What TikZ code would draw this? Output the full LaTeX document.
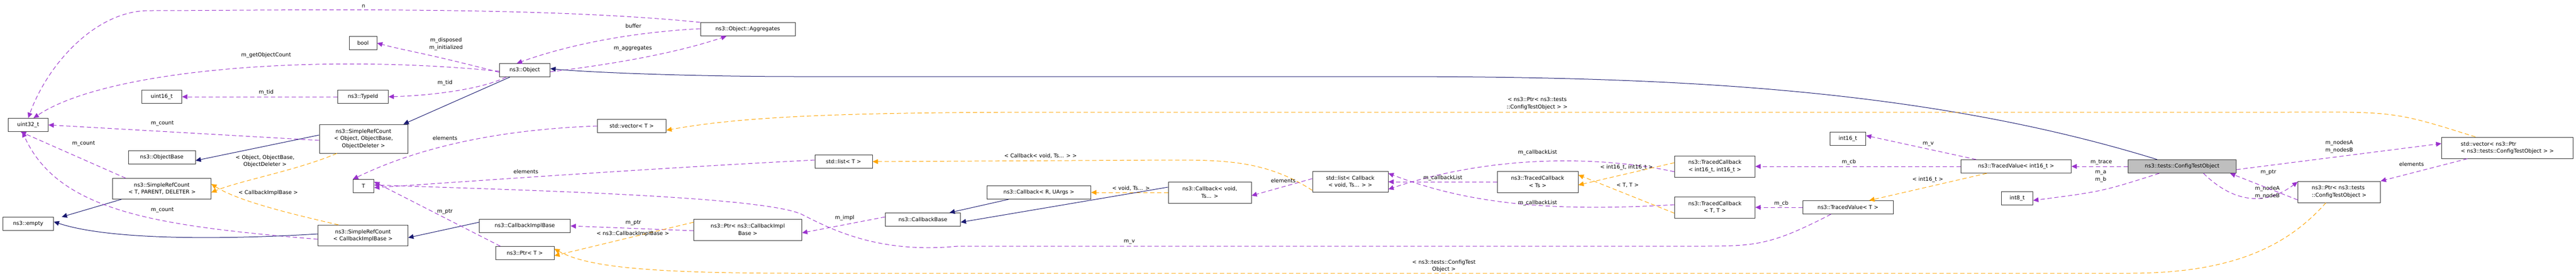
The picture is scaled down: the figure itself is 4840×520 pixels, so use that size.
\documentclass[tikz,border=0pt]{standalone}
\usepackage{fontspec}
\setmainfont{DejaVu Sans}
\usetikzlibrary{arrows.meta}
\definecolor{use}{HTML}{9A32CD}
\definecolor{tmpl}{HTML}{FFA500}
\definecolor{inh}{HTML}{191970}
\begin{document}
\begin{tikzpicture}[x=1pt,y=-1pt,
  font=\fontsize{10}{13.5}\selectfont,
  box/.style={draw=black!80, line width=1pt, fill=white, minimum height=25pt, inner sep=0pt, align=center},
  usee/.style={draw=use, line width=1pt, dash pattern=on 8pt off 5pt, -{Triangle[length=10pt,width=9pt]}},
  tmple/.style={draw=tmpl, line width=1pt, dash pattern=on 8pt off 5pt, -{Triangle[length=10pt,width=9pt]}},
  inhe/.style={draw=inh, line width=1pt, -{Triangle[length=10pt,width=9pt]}},
  lbl/.style={inner sep=0pt, align=center, fill=none}]
\useasboundingbox (0,0) rectangle (4840,520);
% nodes
\node[box, minimum width=75] (u32) at (53,235) {uint32\_t};
\node[box, minimum width=75] (u16) at (304,182) {uint16\_t};
\node[box, minimum width=126] (obase) at (304,296) {ns3::ObjectBase};
\node[box, minimum width=185, minimum height=39] (srct) at (304,355) {ns3::SimpleRefCount\\\hspace*{1pt}< T, PARENT, DELETER >};
\node[box, minimum width=95] (empty) at (53,421) {ns3::empty};
\node[box, minimum width=52] (bool) at (682,81) {bool};
\node[box, minimum width=95] (tid) at (682,182) {ns3::TypeId};
\node[box, minimum width=166, minimum height=54] (srco) at (683,261) {ns3::SimpleRefCount\\< Object, ObjectBase,\\ObjectDeleter >};
\node[box, minimum width=39] (T) at (683,350) {T};
\node[box, minimum width=169, minimum height=39] (srcc) at (682,443) {ns3::SimpleRefCount\\< CallbackImplBase >};
\node[box, minimum width=95] (obj) at (986,132) {ns3::Object};
\node[box, minimum width=178] (agg) at (1405,55) {ns3::Object::Aggregates};
\node[box, minimum width=129] (vecT) at (1187,237) {std::vector< T >};
\node[box, minimum width=171] (cib) at (986,425) {ns3::CallbackImplBase};
\node[box, minimum width=110] (ptrT) at (986,476) {ns3::Ptr< T >};
\node[box, minimum width=203, minimum height=40] (ptrcib) at (1405,432) {ns3::Ptr< ns3::CallbackImpl\\Base >};
\node[box, minimum width=108] (listT) at (1585,304) {std::list< T >};
\node[box, minimum width=195] (cbru) at (1952,362) {ns3::Callback< R, UArgs >};
\node[box, minimum width=141] (cbb) at (1734,413) {ns3::CallbackBase};
\node[box, minimum width=156, minimum height=40] (cbv) at (2273,362) {ns3::Callback< void,\\Ts... >};
\node[box, minimum width=142, minimum height=39] (listcb) at (2537,342) {std::list< Callback\\< void, Ts... > >};
\node[box, minimum width=152, minimum height=40] (tcts) at (2889,342) {ns3::TracedCallback\\< Ts >};
\node[box, minimum width=151, minimum height=40] (tci) at (3222,313) {ns3::TracedCallback\\< int16\_t, int16\_t >};
\node[box, minimum width=151, minimum height=40] (tctt) at (3222,390) {ns3::TracedCallback\\< T, T >};
\node[box, minimum width=67] (i16) at (3472,261) {int16\_t};
\node[box, minimum width=170] (tvT) at (3472,390) {ns3::TracedValue< T >};
\node[box, minimum width=207] (tvi) at (3788,313) {ns3::TracedValue< int16\_t >};
\node[box, minimum width=203, fill=black!25] (cto) at (4100,313) {ns3::tests::ConfigTestObject};
\node[box, minimum width=59] (i8) at (3790,373) {int8\_t};
\node[box, minimum width=247, minimum height=40, align=left] (vecp) at (4711,278) {std::vector< ns3::Ptr\\< ns3::tests::ConfigTestObject > >};
\node[box, minimum width=155, minimum height=40, align=left] (ptrc) at (4395,361) {ns3::Ptr< ns3::tests\\::ConfigTestObject >};
% edges
\draw[usee] (agg.north west) .. controls (1000,10) and (500,20) .. (280,20) .. controls (180,20) and (90,120) .. (u32.north);
\node[lbl] (l1) at (683,12) {n};
\draw[usee] ([yshift=-4pt]obj.west) .. controls (800,100) and (760,95) .. (bool.east);
\node[lbl] (l2) at (838,83) {m\_disposed\\m\_initialized};
\draw[usee] ([yshift=-2pt]obj.west) .. controls (600,100) and (200,130) .. ([xshift=10pt]u32.north);
\node[lbl] (l3) at (500,104) {m\_getObjectCount};
\draw[usee] (tid.west) -- (u16.east);
\node[lbl] (l4) at (500,174) {m\_tid};
\draw[usee] ([xshift=-35pt]obj.south) .. controls (900,170) and (800,180) .. (tid.east);
\node[lbl] (l5) at (836,156) {m\_tid};
\draw[inhe] ([xshift=-28pt]obj.south) -- ([xshift=75pt]srco.north);
\draw[usee] ([yshift=-3pt]srco.west) -- (u32.east);
\node[lbl] (l7) at (305,232) {m\_count};
\draw[inhe] ([yshift=7pt]srco.west) -- ([yshift=-6pt]obase.east);
\draw[tmple] ([xshift=-50pt]srco.south) .. controls (560,320) and (450,340) .. ([yshift=-7pt]srct.east);
\node[lbl] (l9) at (498,303) {< Object, ObjectBase,\\ObjectDeleter >};
\draw[usee] ([xshift=-68pt]srct.north) -- ([xshift=-14pt]u32.south);
\node[lbl] (l10) at (157,270) {m\_count};
\draw[inhe] ([xshift=-76pt]srct.south) -- ([xshift=15pt]empty.north east);
\draw[usee] ([yshift=-7pt]srcc.west) .. controls (300,425) and (110,400) .. ([xshift=-11pt]u32.south);
\node[lbl] (l12) at (305,395) {m\_count};
\draw[inhe] ([yshift=3pt]srcc.west) .. controls (400,452) and (200,450) .. ([yshift=4pt]empty.east);
\draw[tmple] ([xshift=-46pt]srcc.north) .. controls (560,405) and (450,380) .. ([yshift=9pt]srct.east);
\node[lbl] (l14) at (504,363) {< CallbackImplBase >};
\draw[usee] ([yshift=-3pt]obj.east) .. controls (1200,115) and (1300,90) .. ([xshift=-40pt]agg.south);
\node[lbl] (l15) at (1189,91) {m\_aggregates};
\draw[usee] ([yshift=1pt]agg.west) .. controls (1200,60) and (1080,80) .. ([xshift=-15pt]obj.north);
\node[lbl] (l16) at (1190,49) {buffer};
\draw[inhe] ([xshift=-47pt]cto.north) .. controls (3600,160) and (3100,144) .. (2600,144) -- (1500,144) .. controls (1300,144) and (1100,136) .. ([yshift=3pt]obj.east);
\draw[usee] (vecT.west) .. controls (900,245) and (760,290) .. (T.north west);
\node[lbl] (l17) at (836,260) {elements};
\draw[tmple] ([xshift=-60pt]vecp.north) .. controls (4500,210) .. (4300,211) -- (2000,211) .. controls (1600,211) and (1400,218) .. ([yshift=-8pt]vecT.east);
\node[lbl] (l18) at (2888,195) {< ns3::Ptr< ns3::tests\\::ConfigTestObject > >};
\draw[usee] ([yshift=3pt]listT.west) .. controls (1200,318) and (900,340) .. ([yshift=-3pt]T.east);
\node[lbl] (l19) at (988,323) {elements};
\draw[tmple] ([yshift=-16pt]listcb.west) .. controls (2380,302) and (2300,301) .. (2200,301) -- (listT.east);
\node[lbl] (l20) at (1955,293) {< Callback< void, Ts... > >};
\draw[tmple] (cbv.west) -- (cbru.east);
\node[lbl] (l21) at (2125,354) {< void, Ts... >};
\draw[inhe] ([yshift=10pt]cbv.west) -- ([yshift=-5pt]cbb.east);
\draw[inhe] ([xshift=-57pt]cbru.south) -- ([xshift=50pt]cbb.north);
\draw[usee] ([yshift=5pt]cbb.west) -- ([yshift=-6pt]ptrcib.east);
\node[lbl] (l24) at (1587,410) {m\_impl};
\draw[usee] ([yshift=-2pt]ptrcib.west) -- (cib.east);
\node[lbl] (l25) at (1190,419) {m\_ptr};
\draw[tmple] ([yshift=14pt]ptrcib.west) -- ([yshift=-5pt]ptrT.east);
\node[lbl] (l26) at (1189,440) {< ns3::CallbackImplBase >};
\draw[inhe] ([yshift=7pt]cib.west) -- ([yshift=-4pt]srcc.east);
\draw[usee] ([xshift=-46pt]ptrT.north) -- ([yshift=8pt]T.east);
\node[lbl] (l28) at (836,398) {m\_ptr};
\draw[usee] ([yshift=6pt]listcb.west) -- ([yshift=-6pt]cbv.east);
\node[lbl] (l29) at (2411,340) {elements};
\draw[usee] ([yshift=-10pt]tci.west) .. controls (3000,292) and (2800,292) .. ([yshift=-14pt]listcb.east);
\node[lbl] (l30) at (2889,287) {m\_callbackList};
\draw[usee] (tcts.west) -- (listcb.east);
\node[lbl] (l31) at (2711,335) {m\_callbackList};
\draw[usee] ([yshift=5pt]tctt.west) .. controls (2900,400) and (2750,380) .. ([yshift=16pt]listcb.east);
\node[lbl] (l32) at (2889,382) {m\_callbackList};
\draw[tmple] ([yshift=7pt]tci.west) -- ([yshift=-6pt]tcts.east);
\node[lbl] (l33) at (3056,315) {< int16\_t, int16\_t >};
\draw[tmple] ([yshift=-11pt]tctt.west) -- ([yshift=13pt]tcts.east);
\node[lbl] (l34) at (3058,348) {< T, T >};
\draw[usee] (tvi.west) -- (tci.east);
\node[lbl] (l35) at (3474,305) {m\_cb};
\draw[usee] (tvT.west) -- (tctt.east);
\node[lbl] (l36) at (3347,383) {m\_cb};
\draw[usee] ([xshift=-75pt]tvi.north) -- ([yshift=6pt]i16.east);
\node[lbl] (l37) at (3623,271) {m\_v};
\draw[tmple] ([xshift=-55pt]tvi.south) -- ([xshift=40pt]tvT.north);
\node[lbl] (l38) at (3622,338) {< int16\_t >};
\draw[usee] ([xshift=-32pt]tvT.south) .. controls (3330,460) and (3300,463) .. (3200,463) -- (1800,463) .. controls (1650,478) and (1560,430) .. (1510,405) .. controls (1450,370) and (1000,358) .. ([yshift=2pt]T.east);
\node[lbl] (l39) at (2122,455) {m\_v};
\draw[tmple] ([xshift=-25pt]ptrc.south) .. controls (4300,460) and (4200,514) .. (4000,514) -- (1500,514) .. controls (1200,514) and (1100,500) .. ([yshift=8pt]ptrT.east);
\node[lbl] (l40) at (2713,500) {< ns3::tests::ConfigTest\\Object >};
\draw[usee] (cto.west) -- (tvi.east);
\node[lbl] (l41) at (3948,305) {m\_trace};
\draw[usee] ([xshift=-43pt]cto.south) .. controls (3950,360) .. ([yshift=-4pt]i8.east);
\node[lbl] (l42) at (3947,332) {m\_a\\m\_b};
\draw[usee] ([yshift=-6pt]cto.east) -- ([yshift=8pt]vecp.west);
\node[lbl] (l43) at (4395,276) {m\_nodesA\\m\_nodesB};
\draw[usee] ([xshift=40pt]cto.south) .. controls (4200,385) and (4260,385) .. ([yshift=19pt]ptrc.west);
\node[lbl] (l44) at (4260,362) {m\_nodeA\\m\_nodeB};
\draw[usee] ([yshift=-15pt]ptrc.west) -- ([xshift=90pt]cto.south);
\node[lbl] (l45) at (4262,324) {m\_ptr};
\draw[usee] ([xshift=-75pt]vecp.south) -- (ptrc.north east);
\node[lbl] (l46) at (4531,309) {elements};
\end{tikzpicture}
\end{document}
